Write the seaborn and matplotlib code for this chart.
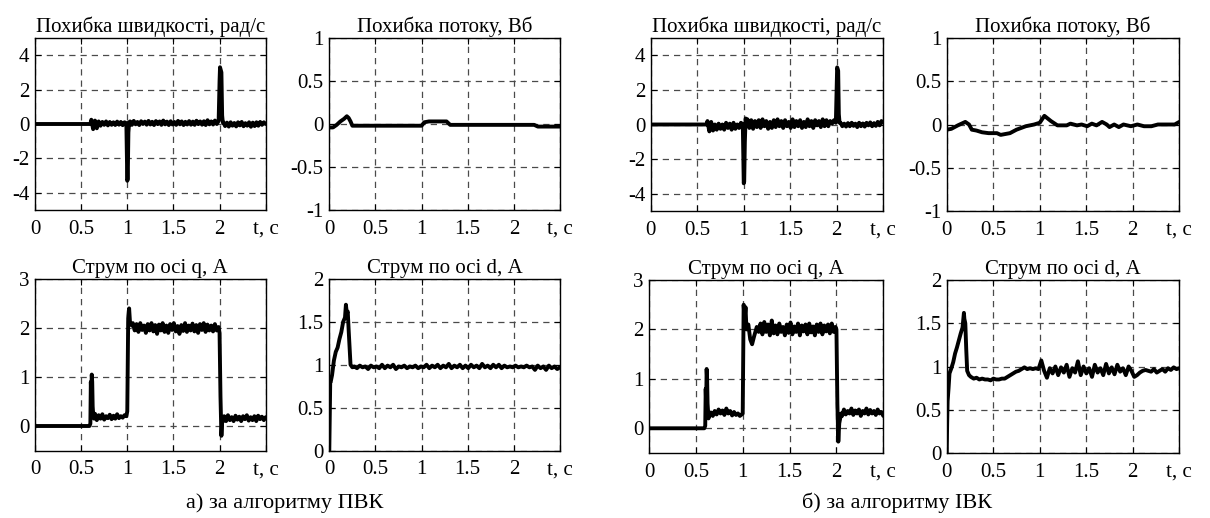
import numpy as np
import pandas as pd
import matplotlib
matplotlib.use("Agg")
import matplotlib.pyplot as plt
import seaborn as sns

sns.set_theme(style="white")
plt.rcParams['font.family'] = ['Liberation Serif', 'DejaVu Serif']

# ---------------- data ----------------
TITLE_SPEED = "Похибка швидкості, рад/с"
TITLE_FLUX = "Похибка потоку, Вб"
TITLE_IQ = "Струм по осі q, А"
TITLE_ID = "Струм по осі d, А"
CAPTION_A = "а) за алгоритму ПВК"
CAPTION_B = "б) за алгоритму ІВК"
X_TICKS = [0, 0.5, 1, 1.5, 2, 2.5]
X_LABELS = ["0", "0.5", "1", "1.5", "2", "t, c"]

# --- (a) speed error
a_speed_pre_t = [0, 0.6]
a_speed_pre_y = [0, 0]
a_speed_band1 = [0.25, -0.3, 0.2, -0.25, 0.15, -0.1, 0.12, -0.05, 0.15, -0.08,
                 0.12, -0.05, 0.1, -0.06, 0.14, -0.04, 0.12, -0.07, 0.1, 0.05]
a_speed_sp1_t = [1.0, 1.005, 1.012, 1.02]
a_speed_sp1_y = [-3.3, -3.2, -0.5, 0.1]
a_speed_band2 = [0.15, -0.05, 0.18, -0.02, 0.12, -0.06, 0.16, 0.0, 0.14, -0.04,
                 0.18, -0.03, 0.13, -0.06, 0.17, -0.01, 0.15, -0.05, 0.2, -0.02,
                 0.14, -0.06, 0.16, -0.03, 0.12, -0.05, 0.18, -0.02, 0.15, -0.06,
                 0.13, -0.03, 0.17, -0.04, 0.14, -0.05, 0.19, -0.01, 0.15, -0.04,
                 0.16, -0.06, 0.22, -0.02, 0.15, -0.03, 0.2, 0.0, 0.18]
a_speed_sp2_t = [2.0, 2.005, 2.02, 2.028, 2.035]
a_speed_sp2_y = [2.5, 3.3, 3.0, 0.5, 0.1]
a_speed_band3 = [0.1, -0.12, 0.08, -0.15, 0.1, -0.1, 0.06, -0.14, 0.1, -0.08,
                 0.12, -0.13, 0.05, -0.1, 0.1, -0.16, 0.08, -0.12, 0.1, -0.1,
                 0.12, -0.05, 0.1, 0.0]

# --- (b) speed error
b_speed_pre_t = [0, 0.6]
b_speed_pre_y = [0, 0]
b_speed_band1 = [0.2, -0.4, 0.15, -0.35, 0.0, -0.3, 0.05, -0.25, 0.0, -0.3,
                 0.1, -0.2, 0.05, -0.3, 0.1, -0.25, 0.0, -0.2, 0.1, 0.0]
b_speed_sp1_t = [1.0, 1.005, 1.012, 1.02, 1.03]
b_speed_sp1_y = [-3.4, -3.3, -1.0, 0.35, 0.2]
b_speed_band2 = [0.3, -0.2, 0.25, -0.25, 0.2, -0.15, 0.25, -0.2, 0.3, -0.1,
                 0.2, -0.25, 0.15, -0.2, 0.25, -0.15, 0.3, -0.1, 0.2, -0.2,
                 0.25, -0.1, 0.15, -0.2, 0.3, -0.15, 0.2, -0.1, 0.25, -0.2,
                 0.15, -0.15, 0.3, -0.1, 0.2, -0.2, 0.25, -0.05, 0.2, -0.15,
                 0.3, -0.1, 0.25, -0.1, 0.2, 0.05, 0.25, 0.1]
b_speed_sp2_t = [2.0, 2.004, 2.015, 2.022, 2.03]
b_speed_sp2_y = [2.4, 3.3, 3.1, 0.6, 0.1]
b_speed_band3 = [0.1, -0.1, 0.05, -0.12, 0.08, -0.1, 0.1, -0.08, 0.05, -0.15,
                 0.1, -0.1, 0.06, -0.12, 0.1, -0.05, 0.12, -0.1, 0.08, -0.08,
                 0.15, -0.05, 0.2, 0.1]

# --- (a) flux error
a_flux_t = [0, 0.04, 0.08, 0.12, 0.16, 0.19, 0.21, 0.23, 0.25, 0.3, 1.0, 1.03,
            1.08, 1.27, 1.31, 2.22, 2.26, 2.5]
a_flux_y = [-0.04, -0.04, -0.01, 0.03, 0.06, 0.09, 0.07, 0.03, -0.02, -0.02,
            -0.02, 0.02, 0.03, 0.03, -0.01, -0.01, -0.03, -0.03]

# --- (b) flux error
b_flux_t = [0, 0.05, 0.12, 0.2, 0.24, 0.27, 0.32, 0.38, 0.45, 0.54, 0.58, 0.63,
            0.68, 0.75, 0.85, 0.94, 1.0, 1.05, 1.12, 1.19, 1.29, 1.33, 1.4, 1.45,
            1.51, 1.56, 1.61, 1.67, 1.72, 1.75, 1.8, 1.85, 1.9, 1.98, 2.05, 2.12,
            2.2, 2.27, 2.35, 2.45, 2.5]
b_flux_y = [-0.06, -0.05, -0.01, 0.03, 0.0, -0.06, -0.07, -0.09, -0.1, -0.1,
            -0.12, -0.11, -0.1, -0.06, -0.02, 0.0, 0.02, 0.1, 0.04, -0.01, -0.01,
            0.01, -0.01, 0.0, -0.02, 0.01, -0.01, 0.03, 0.0, -0.03, 0.0, -0.03,
            0.0, -0.02, 0.0, -0.02, -0.02, 0.0, 0.0, 0.0, 0.03]

# --- (a) q current
a_iq_pre_t = [0, 0.59]
a_iq_pre_y = [0, 0]
a_iq_sp1_t = [0.6, 0.605, 0.61, 0.615, 0.62, 0.625, 0.63, 0.64]
a_iq_sp1_y = [0.05, 0.9, 0.6, 1.05, 0.9, 0.4, 0.25, 0.15]
a_iq_band1 = [0.25, 0.12, 0.22, 0.15, 0.24, 0.13, 0.2, 0.16, 0.23, 0.14,
              0.21, 0.15, 0.24, 0.16, 0.2, 0.17, 0.22, 0.2]
a_iq_up_t = [1.0, 1.01, 1.02, 1.03, 1.05]
a_iq_up_y = [0.3, 2.2, 2.4, 2.1, 2.05]
a_iq_band2 = [2.1, 1.95, 2.08, 1.92, 2.1, 1.96, 2.05, 1.9, 2.08, 1.95,
              2.1, 1.93, 2.06, 1.88, 2.07, 1.95, 2.1, 1.92, 2.05, 1.9,
              2.08, 1.96, 2.1, 1.93, 2.04, 1.88, 2.06, 1.94, 2.1, 1.92,
              2.05, 1.95, 2.09, 1.93, 2.06, 1.9, 2.08, 1.96, 2.1, 1.92,
              2.07, 1.95, 2.05, 1.93, 2.08, 1.95, 2.02]
a_iq_dn_t = [2.0, 2.01, 2.02, 2.03, 2.04]
a_iq_dn_y = [1.9, 0.6, -0.2, 0.15, 0.1]
a_iq_band3 = [0.2, 0.1, 0.22, 0.12, 0.18, 0.1, 0.21, 0.13, 0.19, 0.1,
              0.2, 0.14, 0.22, 0.11, 0.18, 0.12, 0.2, 0.1, 0.21, 0.14,
              0.19, 0.12, 0.18]

# --- (b) q current
b_iq_pre_t = [0, 0.59]
b_iq_pre_y = [0, 0]
b_iq_sp1_t = [0.6, 0.605, 0.61, 0.615, 0.62, 0.625, 0.635, 0.645]
b_iq_sp1_y = [0.05, 0.8, 0.5, 1.2, 1.0, 0.5, 0.2, 0.28]
b_iq_band1 = [0.32, 0.25, 0.35, 0.28, 0.38, 0.3, 0.36, 0.27, 0.4, 0.3,
              0.35, 0.26, 0.33, 0.27, 0.3, 0.25, 0.28]
b_iq_up_t = [1.0, 1.01, 1.02, 1.03, 1.04, 1.06, 1.08, 1.1, 1.12, 1.15]
b_iq_up_y = [0.3, 2.5, 2.2, 2.45, 2.0, 2.1, 1.8, 1.7, 1.85, 2.05]
b_iq_band2 = [1.95, 2.12, 1.9, 2.15, 1.95, 2.1, 1.88, 2.18, 1.92, 2.08,
              1.9, 2.12, 1.95, 2.05, 1.88, 2.1, 1.93, 2.14, 1.9, 2.06,
              1.95, 2.12, 1.88, 2.08, 1.96, 2.1, 1.9, 2.12, 1.94, 2.06,
              1.88, 2.1, 1.95, 2.12, 1.9, 2.08, 1.96, 2.1, 1.92, 2.12,
              1.95, 2.05]
b_iq_dn_t = [2.0, 2.01, 2.02, 2.03, 2.05]
b_iq_dn_y = [2.0, 0.5, -0.27, 0.1, 0.3]
b_iq_band3 = [0.25, 0.38, 0.28, 0.35, 0.3, 0.4, 0.27, 0.36, 0.3, 0.38,
              0.25, 0.35, 0.3, 0.4, 0.28, 0.37, 0.3, 0.35, 0.27, 0.38,
              0.3, 0.33, 0.25]

# --- (a) d current
a_id_rise_t = [0, 0.005, 0.01, 0.015, 0.03, 0.05, 0.07, 0.09, 0.11, 0.13, 0.15,
               0.17, 0.18, 0.19, 0.2, 0.21, 0.22, 0.23, 0.25]
a_id_rise_y = [0.0, 0.4, 0.8, 0.8, 0.88, 1.05, 1.15, 1.2, 1.3, 1.38, 1.5,
               1.55, 1.7, 1.6, 1.62, 1.4, 1.2, 1.0, 0.97]
a_id_band = [0.98, 0.96, 0.99, 0.97, 0.98, 0.95, 0.99, 0.97, 0.98, 0.96,
             1.0, 0.96, 0.99, 0.97, 1.0, 0.95, 0.98, 0.97, 0.99, 0.96,
             0.98, 0.97, 0.99, 0.96, 0.98, 0.97, 1.0, 0.96, 0.99, 0.97,
             1.0, 0.96, 0.99, 0.97, 1.01, 0.96, 0.99, 0.97, 1.0, 0.96,
             0.99, 0.96, 1.0, 0.97, 0.99, 0.96, 1.01, 0.97, 0.99, 0.96,
             1.0, 0.97, 1.0, 0.96, 0.99, 0.97, 0.98, 0.97, 0.99, 0.97,
             0.98, 0.97, 0.99, 0.97, 0.98, 0.94, 0.99, 0.96, 0.98, 0.94,
             0.99, 0.96, 0.98, 0.95, 0.97]

# --- (b) d current
b_id_rise_t = [0, 0.005, 0.01, 0.02, 0.03, 0.05, 0.07, 0.09, 0.11, 0.13, 0.15,
               0.17, 0.185, 0.19, 0.2, 0.21, 0.22, 0.24]
b_id_rise_y = [0, 0.35, 0.6, 0.75, 0.92, 0.98, 1.05, 1.15, 1.22, 1.3, 1.38,
               1.45, 1.62, 1.55, 1.5, 1.2, 0.95, 0.9]
b_id_band = [0.88, 0.86, 0.87, 0.85, 0.86, 0.85, 0.85, 0.84, 0.86, 0.85, 0.85, 0.86,
             0.86, 0.88, 0.9, 0.92, 0.94,
             0.95, 0.97, 0.99, 0.97, 0.98, 0.97, 0.98, 0.97,
             1.07, 0.95, 0.87, 0.98, 0.92, 1.0, 0.9, 0.99, 0.93, 1.02, 0.88,
             0.98, 0.93, 1.06, 0.9, 1.0, 0.92, 0.98, 0.88, 1.02, 0.93, 0.98,
             0.9, 1.03, 0.92, 0.99, 0.91, 1.02, 0.94, 0.98, 0.9, 1.0, 0.95,
             0.88, 0.9, 0.93, 0.95, 0.96, 0.95, 0.94, 0.97, 0.93, 0.95, 0.97,
             0.94, 0.98, 0.96, 0.99, 0.97, 0.98]


def build(pieces):
    """pieces: ('pts', t, y) or ('band', t0, t1, values)"""
    ts, ys = [], []
    for p in pieces:
        if p[0] == 'pts':
            ts.extend(p[1]); ys.extend(p[2])
        else:
            ts.extend(np.linspace(p[1], p[2], len(p[3])).tolist()); ys.extend(p[3])
    return pd.DataFrame({'t': ts, 'y': ys})


a_speed = build([('pts', a_speed_pre_t, a_speed_pre_y), ('band', 0.61, 0.99, a_speed_band1),
                 ('pts', a_speed_sp1_t, a_speed_sp1_y), ('band', 1.03, 1.99, a_speed_band2),
                 ('pts', a_speed_sp2_t, a_speed_sp2_y), ('band', 2.04, 2.5, a_speed_band3)])
b_speed = build([('pts', b_speed_pre_t, b_speed_pre_y), ('band', 0.61, 0.99, b_speed_band1),
                 ('pts', b_speed_sp1_t, b_speed_sp1_y), ('band', 1.04, 1.99, b_speed_band2),
                 ('pts', b_speed_sp2_t, b_speed_sp2_y), ('band', 2.04, 2.5, b_speed_band3)])
a_flux = build([('pts', a_flux_t, a_flux_y)])
b_flux = build([('pts', b_flux_t, b_flux_y)])
a_iq = build([('pts', a_iq_pre_t, a_iq_pre_y), ('pts', a_iq_sp1_t, a_iq_sp1_y),
              ('band', 0.65, 0.99, a_iq_band1), ('pts', a_iq_up_t, a_iq_up_y),
              ('band', 1.06, 1.99, a_iq_band2), ('pts', a_iq_dn_t, a_iq_dn_y),
              ('band', 2.05, 2.5, a_iq_band3)])
b_iq = build([('pts', b_iq_pre_t, b_iq_pre_y), ('pts', b_iq_sp1_t, b_iq_sp1_y),
              ('band', 0.66, 0.99, b_iq_band1), ('pts', b_iq_up_t, b_iq_up_y),
              ('band', 1.17, 1.99, b_iq_band2), ('pts', b_iq_dn_t, b_iq_dn_y),
              ('band', 2.06, 2.5, b_iq_band3)])
a_id = build([('pts', a_id_rise_t, a_id_rise_y), ('band', 0.27, 2.5, a_id_band)])
b_id = build([('pts', b_id_rise_t, b_id_rise_y), ('band', 0.26, 2.5, b_id_band)])

# ---------------- figure ----------------
W, H = 1210, 518
fig = plt.figure(figsize=(W / 100, H / 100), dpi=100)


def rect(x0, x1, y0, y1):
    return [x0 / W, 1 - y1 / H, (x1 - x0) / W, (y1 - y0) / H]


panels = [
    (rect(35, 265.7, 38, 210), a_speed, TITLE_SPEED, (-5, 5), [-4, -2, 0, 2, 4], ["-4", "-2", "0", "2", "4"]),
    (rect(329.3, 560, 38, 210), a_flux, TITLE_FLUX, (-1, 1), [-1, -0.5, 0, 0.5, 1], ["-1", "-0.5", "0", "0.5", "1"]),
    (rect(35, 265.7, 279, 450.5), a_iq, TITLE_IQ, (-0.5, 3), [0, 1, 2, 3], ["0", "1", "2", "3"]),
    (rect(329.3, 560, 279, 450.5), a_id, TITLE_ID, (0, 2), [0, 0.5, 1, 1.5, 2], ["0", "0.5", "1", "1.5", "2"]),
    (rect(650.7, 883.3, 38, 211), b_speed, TITLE_SPEED, (-5, 5), [-4, -2, 0, 2, 4], ["-4", "-2", "0", "2", "4"]),
    (rect(946.7, 1179.3, 38, 211), b_flux, TITLE_FLUX, (-1, 1), [-1, -0.5, 0, 0.5, 1], ["-1", "-0.5", "0", "0.5", "1"]),
    (rect(649, 883.3, 280, 453), b_iq, TITLE_IQ, (-0.5, 3), [0, 1, 2, 3], ["0", "1", "2", "3"]),
    (rect(946.7, 1179.3, 280, 453), b_id, TITLE_ID, (0, 2), [0, 0.5, 1, 1.5, 2], ["0", "0.5", "1", "1.5", "2"]),
]

for r, df, title, ylim, yt, ytl in panels:
    ax = fig.add_axes(r)
    sns.lineplot(data=df, x='t', y='y', ax=ax, color='black', linewidth=2.8,
                 estimator=None, sort=False)
    ax.set_xlim(0, 2.5)
    ax.set_ylim(*ylim)
    ax.set_xticks(X_TICKS)
    ax.set_xticklabels(X_LABELS)
    ax.set_yticks(yt)
    ax.set_yticklabels(ytl)
    ax.set_xlabel('')
    ax.set_ylabel('')
    ax.grid(True, color='#4a4a4a', linestyle=(0, (5, 4)), linewidth=0.9)
    ax.tick_params(direction='in', top=True, right=True, bottom=True, left=True,
                   length=4, width=0.8, color='black', labelsize=15,
                   labelcolor='black')
    ax.tick_params(axis='x', pad=7)
    ax.tick_params(axis='y', pad=4)
    for s in ax.spines.values():
        s.set_visible(True)
        s.set_color('black')
        s.set_linewidth(1.0)
    ax.set_title(title, fontsize=15, pad=4, color='black')

fig.text(285 / W, 1 - 503 / H, CAPTION_A, ha='center', va='center', fontsize=16, color='black')
fig.text(897 / W, 1 - 503 / H, CAPTION_B, ha='center', va='center', fontsize=16, color='black')

fig.savefig('out.png', dpi=100, facecolor='white')
